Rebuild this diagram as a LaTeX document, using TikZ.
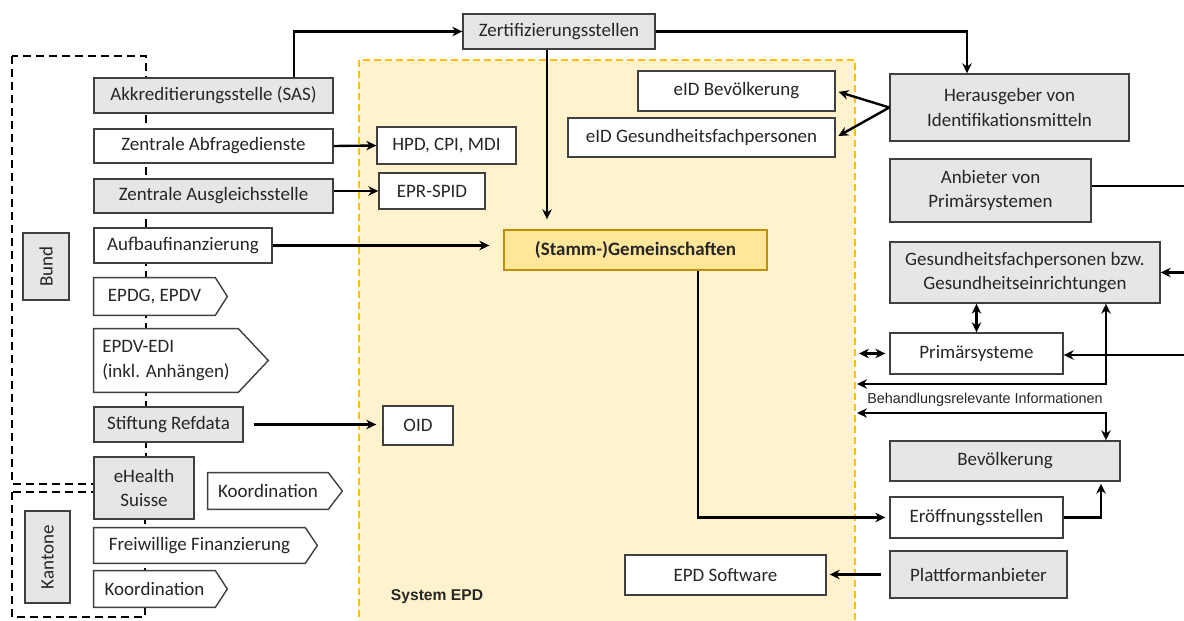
\documentclass[tikz,border=0pt]{standalone}
\usepackage{fontspec}
\setmainfont{Carlito}
\newfontfamily\arialfont{Liberation Sans}
\usetikzlibrary{arrows.meta}

\definecolor{boxgray}{HTML}{E7E6E6}
\definecolor{boxline}{HTML}{404040}
\definecolor{epdfill}{HTML}{FFF2CC}
\definecolor{epdline}{HTML}{FFC000}
\definecolor{stammfill}{HTML}{FFE699}
\definecolor{stammline}{HTML}{BF9000}
\definecolor{txt}{HTML}{262626}

\tikzset{
    box/.style={draw=boxline, line width=0.8pt, fill=white, text=txt, inner sep=2pt,
        font=\fontsize{10.8}{14}\selectfont, align=center},
    gbox/.style={box, fill=boxgray},
    tagbox/.style={fill=white, text=txt, inner sep=2pt, font=\fontsize{10.8}{14}\selectfont, align=center},
    flow/.style={line width=1.35pt, ->},
    grpline/.style={line width=1.2pt, dash pattern=on 0.16cm off 0.1cm},
}
\newcommand{\tagoutline}[2]{%
    \draw[boxline, line width=0.8pt] (#1.north west) -- (#1.north east)
        -- ([xshift=#2]#1.east) -- (#1.south east) -- (#1.south west) -- cycle;}

\begin{document}
\begin{tikzpicture}[x=0.02cm, y=-0.02cm, >={Stealth[length=2mm, width=1.9mm]}]
    \useasboundingbox (0,0) rectangle (1184,621);

    % System EPD
    \node[draw=epdline, fill=epdfill, line width=1.1pt, dash pattern=on 0.14cm off 0.08cm,
        inner sep=0pt, minimum width=9.92cm, minimum height=11.4cm] at (607,345) (epd) {};
    \node[text=txt, font={\arialfont\bfseries\fontsize{8.9}{10}\selectfont}] at (437,597) (sysname) {System EPD};

    % Bund / Kantone
    \draw[grpline] (12,56) rectangle (146,484);
    \draw[grpline] (12,492) rectangle (145,617);
    \node[gbox, rotate=90, minimum width=1.34cm, minimum height=0.92cm] at (46,266.5) (bund) {Bund};
    \node[gbox, rotate=90, minimum width=1.84cm, minimum height=0.90cm] at (47.5,557) (kantone) {Kantone};

    % left column
    \node[gbox, minimum width=4.78cm, minimum height=0.70cm] at (213.5,95.5) (sas) {Akkreditierungsstelle (SAS)};
    \node[box, minimum width=4.78cm, minimum height=0.68cm] at (213.5,146) (abfrage) {Zentrale Abfragedienste};
    \node[gbox, minimum width=4.78cm, minimum height=0.68cm] at (213.5,196) (ausgleich) {Zentrale Ausgleichsstelle};
    \node[box, minimum width=3.56cm, minimum height=0.70cm] at (183,245.5) (aufbau) {Aufbaufinanzierung};
    \node[tagbox, minimum width=2.42cm, minimum height=0.74cm] at (154.5,296.5) (epdg) {EPDG, EPDV};
    \tagoutline{epdg}{0.24cm}
    \node[tagbox, align=left, minimum width=2.88cm, minimum height=1.26cm] at (166,360.5) (epdvedi) {EPDV-EDI\\(inkl. Anhängen)};
    \tagoutline{epdvedi}{0.6cm}
    \node[gbox, minimum width=2.98cm, minimum height=0.70cm] at (168.5,424.5) (refdata) {Stiftung Refdata};
    \node[gbox, minimum width=2.0cm, minimum height=1.24cm] at (144,488) (ehealth) {eHealth\\Suisse};
    \node[tagbox, minimum width=2.40cm, minimum height=0.72cm] at (268,491) (koordA) {Koordination};
    \tagoutline{koordA}{0.28cm}
    \node[tagbox, minimum width=4.22cm, minimum height=0.70cm] at (199.5,545.5) (freiw) {Freiwillige Finanzierung};
    \tagoutline{freiw}{0.24cm}
    \node[tagbox, minimum width=2.42cm, minimum height=0.72cm] at (154.5,589) (koordB) {Koordination};
    \tagoutline{koordB}{0.24cm}

    % middle
    \node[gbox, minimum width=3.84cm, minimum height=0.70cm] at (559,31.5) (zert) {Zertifizierungsstellen};
    \node[box, draw=stammline, fill=stammfill, font=\fontsize{10.8}{14}\selectfont\bfseries,
        minimum width=5.26cm, minimum height=0.80cm] at (635.5,250) (stamm) {(Stamm-)Gemeinschaften};
    \node[box, minimum width=2.78cm, minimum height=0.74cm] at (446.5,145.5) (hpd) {HPD, CPI, MDI};
    \node[box, minimum width=2.12cm, minimum height=0.72cm] at (432,191) (spid) {EPR-SPID};
    \node[box, minimum width=1.40cm, minimum height=0.78cm] at (418,425.5) (oid) {OID};
    \node[box, minimum width=3.94cm, minimum height=0.80cm] at (736.5,91) (eidbev) {eID Bevölkerung};
    \node[box, minimum width=5.34cm, minimum height=0.78cm] at (701.5,137.5) (eidgfp) {eID Gesundheitsfachpersonen};
    \node[box, minimum width=4.02cm, minimum height=0.80cm] at (725.5,575) (epdsw) {EPD Software};

    % right column
    \node[gbox, minimum width=4.78cm, minimum height=1.34cm] at (1009.5,107.5) (herausg) {Herausgeber von\\Identifikationsmitteln};
    \node[gbox, minimum width=4.02cm, minimum height=1.26cm] at (990.5,190.5) (anbieter) {Anbieter von\\Primärsystemen};
    \node[gbox, minimum width=5.40cm, minimum height=1.22cm] at (1025,272.5) (gfp) {Gesundheitsfachpersonen bzw.\\Gesundheitseinrichtungen};
    \node[box, minimum width=3.46cm, minimum height=0.82cm] at (976.5,353.5) (primaer) {Primärsysteme};
    \node[text=txt, font={\arialfont\fontsize{8.2}{10}\selectfont}] at (985,400) (behand) {Behandlungsrelevante Informationen};
    \node[gbox, minimum width=4.60cm, minimum height=0.80cm] at (1005,461) (bevoelk) {Bevölkerung};
    \node[box, minimum width=3.46cm, minimum height=0.82cm] at (976.5,517.5) (eroeff) {Eröffnungsstellen};
    \node[gbox, minimum width=3.54cm, minimum height=0.94cm] at (978.5,574.5) (plattf) {Plattformanbieter};

    \coordinate (rightedge) at (1190,0);
    \coordinate (bhA) at (857,384);
    \coordinate (bhB) at (857,413);

    % Edges
    \draw[flow] ([xshift=1.61cm]sas.north) |- (zert.west);
    \draw[flow] (zert.east) -| ([xshift=-0.85cm]herausg.north);
    \draw[flow, shorten >=0.2cm] ([xshift=-0.24cm]zert.south) -- ([xshift=-0.24cm]zert.south |- stamm.north);
    \draw[flow] (abfrage.east) -- (hpd.west);
    \draw[flow] (ausgleich.east |- spid.west) -- (spid.west);
    \draw[flow, shorten >=0.28cm] (aufbau.east) -- (aufbau.east -| stamm.west);
    \draw[flow, shorten <=0.2cm, shorten >=0.12cm] (refdata.east) -- (refdata.east -| oid.west);

    \draw[flow, shorten >=0.06cm] (herausg.west) -- (eidbev.east);
    \draw[flow, shorten >=0.06cm] (herausg.west) -- (eidgfp.east);

    \draw[line width=1.35pt] ([yshift=0.09cm]anbieter.east) -- ([yshift=0.09cm]anbieter.east -| rightedge);
    \draw[flow] (gfp.east -| rightedge) -- (gfp.east);
    \draw[flow] ([yshift=-0.03cm]primaer.east -| rightedge) -- ([yshift=-0.03cm]primaer.east);
    \draw[flow, <->] (primaer.north) -- (primaer.north |- gfp.south);
    \draw[flow, <->, shorten <=0.06cm, shorten >=0.08cm] (epd.east |- primaer.west) -- (primaer.west);
    \draw[flow, <->] (bhA) -| ([xshift=1.62cm]gfp.south);
    \draw[flow, <->] (bhB) -| ([xshift=2.02cm]bevoelk.north);
    \draw[flow, shorten >=0.04cm] (eroeff.east) -| ([xshift=1.92cm]bevoelk.south);
    \draw[flow, shorten >=0.08cm] ([xshift=1.25cm]stamm.south) |- (eroeff.west);
    \draw[flow, shorten <=0.16cm, shorten >=0.06cm] (plattf.west) -- (plattf.west -| epdsw.east);
\end{tikzpicture}
\end{document}
